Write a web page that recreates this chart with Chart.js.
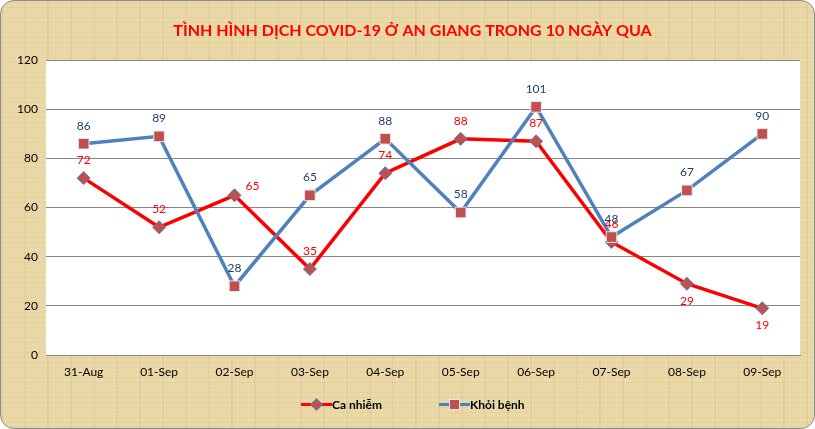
<!DOCTYPE html>
<html>
<head>
<meta charset="utf-8">
<script src="https://cdn.jsdelivr.net/npm/chart.js@4.4.0/dist/chart.umd.min.js"></script>
<style>
    html, body { margin: 0; padding: 0; background: #ffffff; }
    #frame {
        position: relative;
        width: 813px;
        height: 427px;
        border: 1px solid #8c8c8c;
        border-radius: 14px;
        overflow: hidden;
        background-color: #e9d7a4;
        background-image:
            repeating-linear-gradient(90deg, rgba(255,255,255,0.12) 0px, rgba(255,255,255,0.12) 1px, rgba(0,0,0,0) 1px, rgba(0,0,0,0) 4px),
            repeating-linear-gradient(0deg, rgba(150,120,60,0.08) 0px, rgba(150,120,60,0.08) 1px, rgba(0,0,0,0) 1px, rgba(0,0,0,0) 5px),
            repeating-linear-gradient(90deg, rgba(170,140,80,0.10) 0px, rgba(170,140,80,0.10) 2px, rgba(0,0,0,0) 2px, rgba(0,0,0,0) 23px);
    }
    #chart { position: absolute; left: 0; top: 0; }
    #legend {
        position: absolute;
        top: 395px;
        left: 300px;
        display: flex;
        font: bold 12px Lato, "Open Sans", sans-serif;
        color: #000;
    }
    .item { display: flex; align-items: center; height: 16px; }
    .item + .item { margin-left: 57px; }
    .icon { position: relative; width: 31px; height: 14px; }
    .icon .ln { position: absolute; left: 0; right: 0; top: 5.5px; height: 3px; }
    .icon .mk { position: absolute; background: #c0504d; }
    .icon .mk.dia { width: 7px; height: 7px; left: 11px; top: 2.5px; transform: rotate(45deg); border: 1px solid #4f81bd; }
    .icon .mk.sq { width: 9px; height: 9px; left: 10px; top: 1.5px; border: 1px solid #e6e6f0; }
</style>
</head>
<body>
<div id="frame">
    <canvas id="chart" width="815" height="429"></canvas>
    <div id="legend">
        <div class="item"><span class="icon"><span class="ln" style="background:#ff0000"></span><span class="mk dia"></span></span><span>Ca nhiễm</span></div>
        <div class="item"><span class="icon"><span class="ln" style="background:#4f81bd"></span><span class="mk sq"></span></span><span>Khỏi bệnh</span></div>
    </div>
</div>
<script>
// Dữ liệu
const days = ['31-Aug', '01-Sep', '02-Sep', '03-Sep', '04-Sep', '05-Sep', '06-Sep', '07-Sep', '08-Sep', '09-Sep'];
const caNhiem = [72, 52, 65, 35, 74, 88, 87, 46, 29, 19];
const khoiBenh = [86, 89, 28, 65, 88, 58, 101, 48, 67, 90];
const yTicks = [0, 20, 40, 60, 80, 100, 120];

// vị trí nhãn số liệu
const caNhiemLabelPos = ['top', 'top', 'right', 'top', 'top', 'top', 'top', 'top', 'bottom', 'bottom'];
const khoiBenhLabelPos = ['top', 'top', 'top', 'top', 'top', 'top', 'top', 'top', 'top', 'top'];

const FONT = 'Lato, "Open Sans", sans-serif';

// nền trắng vùng vẽ
const plotBg = {
    id: 'plotBg',
    beforeDraw(chart) {
        const { ctx, chartArea: a } = chart;
        ctx.save();
        ctx.fillStyle = '#ffffff';
        ctx.fillRect(a.left, a.top, a.right - a.left, a.bottom - a.top);
        ctx.restore();
    }
};

// nhãn số liệu
const valueLabels = {
    id: 'valueLabels',
    afterDatasetsDraw(chart) {
        const ctx = chart.ctx;
        ctx.save();
        ctx.font = '12px ' + FONT;
        chart.data.datasets.forEach((ds, i) => {
            const meta = chart.getDatasetMeta(i);
            meta.data.forEach((pt, j) => {
                const pos = ds.labelPos[j];
                let x = pt.x, y = pt.y;
                ctx.textAlign = 'center';
                ctx.textBaseline = 'middle';
                if (pos === 'top') y -= 18;
                else if (pos === 'bottom') y += 17;
                else if (pos === 'right') { x += 18; y -= 9; }
                ctx.fillStyle = ds.labelColor;
                ctx.fillText(ds.data[j], x, y);
            });
        });
        ctx.restore();
    }
};

new Chart(document.getElementById('chart'), {
    type: 'line',
    data: {
        labels: days,
        datasets: [
            {
                label: 'Ca nhiễm',
                data: caNhiem,
                borderColor: '#ff0000',
                borderWidth: 3.5,
                pointStyle: 'rectRot',
                pointRadius: 6.5,
                pointBackgroundColor: '#c0504d',
                pointBorderColor: '#4f81bd',
                pointBorderWidth: 1,
                tension: 0,
                order: 1,
                labelPos: caNhiemLabelPos,
                labelColor: '#ff0000'
            },
            {
                label: 'Khỏi bệnh',
                data: khoiBenh,
                borderColor: '#4f81bd',
                borderWidth: 3.5,
                pointStyle: 'rect',
                pointRadius: 7.5,
                pointBackgroundColor: '#c0504d',
                pointBorderColor: '#e6e6f0',
                pointBorderWidth: 1,
                tension: 0,
                order: 0,
                labelPos: khoiBenhLabelPos,
                labelColor: '#1f3f6e'
            }
        ]
    },
    options: {
        responsive: false,
        animation: false,
        layout: { padding: { left: 12, right: 4, top: 0, bottom: 41 } },
        plugins: {
            title: {
                display: true,
                text: 'TÌNH HÌNH DỊCH COVID-19 Ở AN GIANG TRONG 10 NGÀY QUA',
                color: '#ff0000',
                font: { family: FONT, size: 16, weight: 'bold' },
                padding: { top: 20, bottom: 20 }
            },
            legend: { display: false },
            tooltip: { enabled: false }
        },
        scales: {
            x: {
                offset: true,
                grid: { display: false, drawTicks: false },
                border: { color: '#868686', width: 1 },
                ticks: { color: '#000000', font: { family: FONT, size: 12 }, padding: 10, maxRotation: 0 },
                afterFit(scale) { scale.height = 34; }
            },
            y: {
                min: 0,
                max: 120,
                afterBuildTicks(scale) { scale.ticks = yTicks.map(v => ({ value: v })); },
                grid: { color: '#868686', lineWidth: 1, drawTicks: false },
                border: { display: false },
                ticks: { color: '#000000', font: { family: FONT, size: 12 }, padding: 8 },
                afterFit(scale) { scale.width = 33; }
            },
            // khoảng trống bên phải vùng vẽ
            yRight: {
                position: 'right',
                min: 0,
                max: 120,
                grid: { display: false, drawTicks: false },
                border: { display: false },
                ticks: { display: false },
                afterFit(scale) { scale.width = 12; }
            }
        }
    },
    plugins: [plotBg, valueLabels]
});
</script>
</body>
</html>
